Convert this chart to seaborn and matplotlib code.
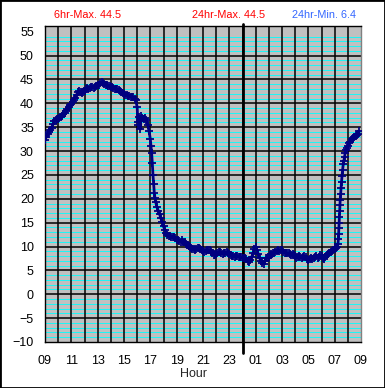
import matplotlib
matplotlib.use('Agg')
import matplotlib.pyplot as plt
import matplotlib.patches as mpatches
import pandas as pd
import seaborn as sns

# hours since 09:00 and the temperature read at that time
hours = [0.0, 0.1, 0.2, 0.3, 0.4, 0.5, 0.6, 0.7, 0.8, 0.9,
         1.0, 1.1, 1.2, 1.3, 1.4, 1.5, 1.6, 1.7, 1.8, 1.9,
         2.0, 2.1, 2.2, 2.3, 2.4, 2.5, 2.6, 2.7, 2.8, 2.9,
         3.0, 3.1, 3.2, 3.3, 3.4, 3.5, 3.6, 3.7, 3.8, 3.9,
         4.0, 4.1, 4.2, 4.3, 4.4, 4.5, 4.6, 4.7, 4.8, 4.9,
         5.0, 5.1, 5.2, 5.3, 5.4, 5.5, 5.6, 5.7, 5.8, 5.9,
         6.0, 6.1, 6.2, 6.3, 6.4, 6.5, 6.6, 6.7, 6.8, 6.9,
         7.0, 7.05, 7.1, 7.15, 7.2, 7.25, 7.3, 7.4, 7.5, 7.6, 7.7, 7.8, 7.9,
         8.0, 8.05, 8.1, 8.15, 8.2, 8.25, 8.3, 8.35, 8.4, 8.5, 8.6, 8.7, 8.8, 8.9,
         9.0, 9.1, 9.2, 9.3, 9.4, 9.5, 9.6, 9.7, 9.8, 9.9,
         10.0, 10.1, 10.2, 10.3, 10.4, 10.5, 10.6, 10.7, 10.8, 10.9,
         11.0, 11.1, 11.2, 11.3, 11.4, 11.5, 11.6, 11.7, 11.8, 11.9,
         12.0, 12.1, 12.2, 12.3, 12.4, 12.5, 12.6, 12.7, 12.8, 12.9,
         13.0, 13.1, 13.2, 13.3, 13.4, 13.5, 13.6, 13.7, 13.8, 13.9,
         14.0, 14.1, 14.2, 14.3, 14.4, 14.5, 14.6, 14.7, 14.8, 14.9,
         15.0, 15.1, 15.2, 15.3, 15.4, 15.5, 15.6, 15.7, 15.8, 15.9,
         16.0, 16.1, 16.2, 16.3, 16.4, 16.5, 16.6, 16.7, 16.8, 16.9,
         17.0, 17.1, 17.2, 17.3, 17.4, 17.5, 17.6, 17.7, 17.8, 17.9,
         18.0, 18.1, 18.2, 18.3, 18.4, 18.5, 18.6, 18.7, 18.8, 18.9,
         19.0, 19.1, 19.2, 19.3, 19.4, 19.5, 19.6, 19.7, 19.8, 19.9,
         20.0, 20.1, 20.2, 20.3, 20.4, 20.5, 20.6, 20.7, 20.8, 20.9,
         21.0, 21.1, 21.2, 21.3, 21.4, 21.5, 21.6, 21.7, 21.8, 21.9,
         22.0, 22.1, 22.2, 22.25, 22.28, 22.3, 22.32, 22.34, 22.36, 22.38,
         22.4, 22.42, 22.45, 22.48, 22.52, 22.56, 22.6, 22.65, 22.7, 22.75,
         22.8, 22.85, 22.9, 23.0, 23.1, 23.2, 23.3, 23.4, 23.5, 23.6,
         23.7, 23.8, 23.85]
temps = [32.3, 33.0, 33.6, 34.0, 34.4, 34.8, 35.6, 36.2, 36.5, 36.7,
         36.8, 36.9, 37.1, 37.4, 37.8, 38.0, 38.4, 38.8, 39.2, 39.6,
         39.9, 40.3, 40.8, 41.2, 41.8, 42.4, 42.6, 42.3, 42.1, 42.3,
         42.6, 42.9, 43.2, 43.0, 43.2, 43.4, 43.4, 43.3, 43.5, 43.7,
         43.8, 43.9, 44.2, 44.5, 44.2, 44.0, 43.9, 43.8, 43.6, 43.6,
         43.4, 43.4, 43.2, 43.0, 43.1, 42.9, 42.8, 42.6, 42.4, 42.2,
         42.0, 41.8, 41.7, 41.6, 41.5, 41.3, 41.4, 41.3, 41.0, 40.6,
         39.2, 36.0, 35.5, 37.2, 36.3, 34.6, 37.3, 37.0, 36.8, 37.0, 36.6, 35.5, 34.2,
         32.5, 31.0, 29.5, 27.5, 25.0, 23.0, 21.3, 20.2, 19.4, 18.3, 17.5, 16.8, 15.9, 15.2,
         14.2, 13.5, 12.9, 12.4, 12.2, 12.3, 12.1, 12.0, 12.1, 11.7,
         11.4, 11.3, 11.1, 11.0, 11.3, 11.0, 10.9, 10.6, 10.3, 10.1,
         9.9, 9.6, 9.4, 9.5, 9.3, 9.5, 9.6, 9.7, 9.5, 9.2,
         9.0, 8.9, 9.0, 9.2, 9.3, 9.2, 9.0, 8.6, 8.3, 8.2,
         8.4, 8.7, 8.9, 8.8, 8.6, 8.5, 8.6, 8.7, 8.8, 8.7,
         8.5, 8.3, 8.1, 8.0, 7.9, 8.0, 8.1, 7.9, 7.8, 7.8,
         7.7, 7.6, 7.5, 7.3, 7.0, 6.8, 7.2, 7.8, 8.6, 9.4,
         9.8, 9.3, 8.4, 7.6, 7.0, 6.6, 6.4, 7.0, 7.5, 7.7,
         7.9, 8.2, 8.4, 8.6, 8.7, 8.9, 9.1, 9.2, 9.0, 9.3,
         9.2, 8.9, 8.7, 8.7, 8.6, 8.6, 8.5, 8.3, 8.4, 8.2,
         8.0, 7.7, 7.9, 8.1, 7.8, 7.6, 7.9, 8.0, 7.8, 7.4,
         7.2, 7.4, 7.6, 7.3, 7.6, 7.9, 8.0, 7.7, 7.9, 8.2,
         8.0, 7.6, 7.3, 7.8, 8.3, 8.5, 8.6, 8.8, 9.0, 9.2,
         9.4, 9.6, 9.9, 10.5, 11.5, 12.6, 13.8, 15.0, 16.2, 17.4,
         18.6, 19.8, 21.0, 22.3, 23.5, 24.8, 26.0, 27.2, 28.0, 28.8,
         29.6, 30.2, 30.6, 31.1, 31.6, 32.0, 32.5, 32.7, 33.0, 33.2,
         33.4, 33.6, 34.1]

tick_hours = list(range(0, 25, 2))
tick_labels = ['09', '11', '13', '15', '17', '19', '21', '23', '01', '03', '05', '07', '09']
y_ticks = list(range(-10, 56, 5))

header_texts = ['6hr-Max. 44.5', '24hr-Max. 44.5', '24hr-Min. 6.4']
header_colors = ['#ff0000', '#ff0000', '#3366ff']
header_x = [88, 229, 324]

sns.set_style('white')
plt.rcParams['font.family'] = ['Liberation Sans', 'DejaVu Sans']

fig = plt.figure(figsize=(3.85, 3.88), dpi=100)
ax = fig.add_axes([45 / 385, 1 - 342 / 388, 316 / 385, 316 / 388])
ax.set_facecolor('#c0c0c0')

# minor cyan lines every degree, black every 5, black every hour
for v in range(-9, 56):
    if v % 5 != 0:
        ax.axhline(v, color='#00ffff', lw=0.6, zorder=1)
for v in range(-5, 55, 5):
    ax.axhline(v, color='black', lw=1.1, zorder=2)
for h in range(1, 24):
    ax.axvline(h, color='black', lw=1.1, zorder=2)
# midnight marker
ax.axvline(15, ymin=-0.035, ymax=1.006, color='black', lw=2.0, clip_on=False, zorder=3)

df = pd.DataFrame({'hour': hours, 'temp': temps})
sns.lineplot(data=df, x='hour', y='temp', ax=ax, sort=False, estimator=None,
             color='#000080', lw=2.0, marker='+', markersize=6,
             markeredgewidth=1.3, markeredgecolor='#000080', zorder=4)

ax.set_xlim(0, 24)
ax.set_ylim(-10, 56.2)
ax.set_xticks(tick_hours)
ax.set_xticklabels(tick_labels)
ax.set_yticks(y_ticks)
ax.set_xlabel('')
ax.set_ylabel('')
ax.tick_params(axis='both', direction='out', length=4, width=1, colors='black', labelsize=9)
ax.tick_params(axis='x', pad=5)
ax.tick_params(axis='y', pad=4)

for side in ['left', 'bottom', 'top']:
    ax.spines[side].set_color('black')
    ax.spines[side].set_linewidth(1.0)
ax.spines['right'].set_color('#808080')
ax.spines['right'].set_linewidth(1.0)

for txt, col, x in zip(header_texts, header_colors, header_x):
    fig.text(x / 385, 1 - 15 / 388, txt, color=col, ha='center', va='center', fontsize=7.8)

fig.text(194 / 385, 1 - 374 / 388, 'Hour', ha='center', va='center', fontsize=9)

# outer frame
fig.patches.append(mpatches.Rectangle((0, 0), 1, 1, transform=fig.transFigure,
                                      fill=False, edgecolor='black', lw=2.0))

fig.savefig('out.png', dpi=100, facecolor='white')
